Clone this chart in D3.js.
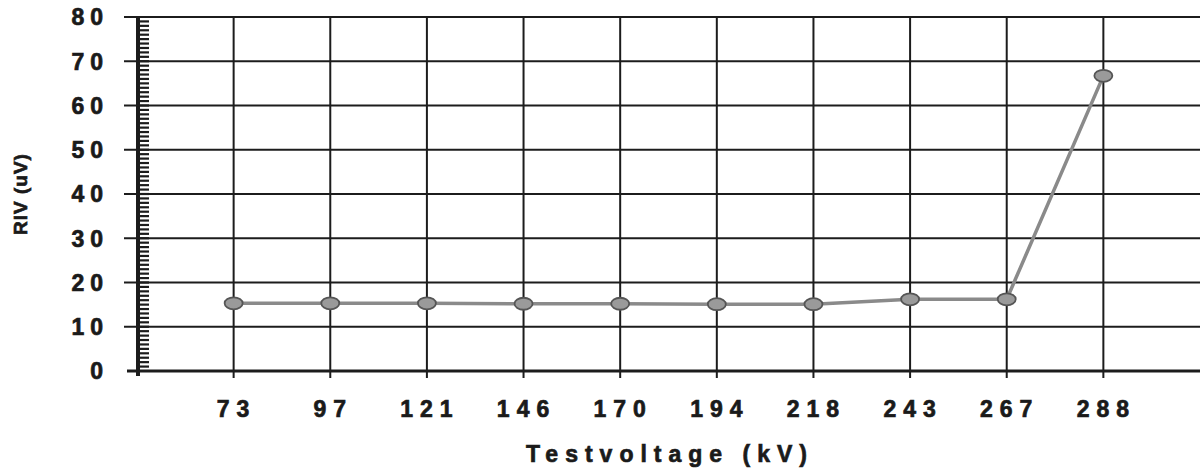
<!DOCTYPE html>
<html><head><meta charset="utf-8">
<script src="https://cdn.jsdelivr.net/npm/d3@7"></script>
<style>
html,body{margin:0;padding:0;background:#fff;}
svg{display:block;}
text{font-family:"Liberation Sans",Arial,sans-serif;font-weight:bold;fill:#1a1a1a;stroke:#1a1a1a;stroke-width:0.7px;}
</style></head>
<body><svg id="c" width="1200" height="468"></svg>
<script>
const categories = ["73","97","121","146","170","194","218","243","267","288"];
const rivValues = [15.3,15.3,15.3,15.2,15.2,15.1,15.1,16.2,16.2,66.7];
const yTicks = [0,10,20,30,40,50,60,70,80];
const xTitle = "Testvoltage (kV)";
const yTitle = "RIV (uV)";

const svg = d3.select("#c");
const L = 137, R = 1200, T = 17, B = 371;
const x = d3.scaleLinear().domain([-1, categories.length]).range([L, R]);
const y = d3.scaleLinear().domain([0, 80]).range([B, T]);
const ink = "#1c1c1c";

// horizontal gridlines
svg.append("g").selectAll("line").data(yTicks.filter(d=>d>0)).join("line")
  .attr("x1", L-13).attr("x2", R).attr("y1", d=>y(d)).attr("y2", d=>y(d))
  .attr("stroke", ink).attr("stroke-width", 2);

// vertical gridlines
svg.append("g").selectAll("line").data(categories).join("line")
  .attr("x1", (d,i)=>x(i)).attr("x2", (d,i)=>x(i)).attr("y1", T).attr("y2", B+7)
  .attr("stroke", ink).attr("stroke-width", 2);

// x axis line
svg.append("line").attr("x1", L-10).attr("x2", R).attr("y1", B).attr("y2", B)
  .attr("stroke", ink).attr("stroke-width", 3);

// y axis thick line with minor ticks
svg.append("line").attr("x1", L+1).attr("x2", L+1).attr("y1", T-1).attr("y2", B+5)
  .attr("stroke", ink).attr("stroke-width", 4);
svg.append("g").selectAll("line").data(d3.range(1, 80)).join("line")
  .attr("x1", L).attr("x2", L+12).attr("y1", d=>y(d)).attr("y2", d=>y(d))
  .attr("stroke", ink).attr("stroke-width", 2.2);

// y tick labels
svg.append("g").selectAll("text").data(yTicks).join("text")
  .attr("x", 109).attr("y", d=>y(d)).attr("dy", "0.36em")
  .attr("text-anchor", "end").attr("font-size", 23).attr("letter-spacing", 6)
  .text(d=>d);

// x tick labels
svg.append("g").selectAll("text").data(categories).join("text")
  .attr("x", (d,i)=>x(i)+3).attr("y", 417)
  .attr("text-anchor", "middle").attr("font-size", 23).attr("letter-spacing", 7)
  .text(d=>d);

// x title
svg.append("text").attr("x", 670).attr("y", 462).attr("text-anchor", "middle")
  .attr("font-size", 23).attr("letter-spacing", 7).text(xTitle);

// y title
svg.append("text").attr("transform", "translate(27,194) rotate(-90)")
  .attr("text-anchor", "middle").attr("font-size", 19).attr("letter-spacing", 1)
  .text(yTitle);

// data line
const line = d3.line().x((d,i)=>x(i)).y(d=>y(d));
svg.append("path").datum(rivValues).attr("d", line)
  .attr("fill", "none").attr("stroke", "#8a8a8a").attr("stroke-width", 3.5);

// markers
svg.append("g").selectAll("ellipse").data(rivValues).join("ellipse")
  .attr("cx", (d,i)=>x(i)).attr("cy", d=>y(d)).attr("rx", 9).attr("ry", 6)
  .attr("fill", "#9a9a9a").attr("stroke", "#555").attr("stroke-width", 1.8);
</script></body></html>
